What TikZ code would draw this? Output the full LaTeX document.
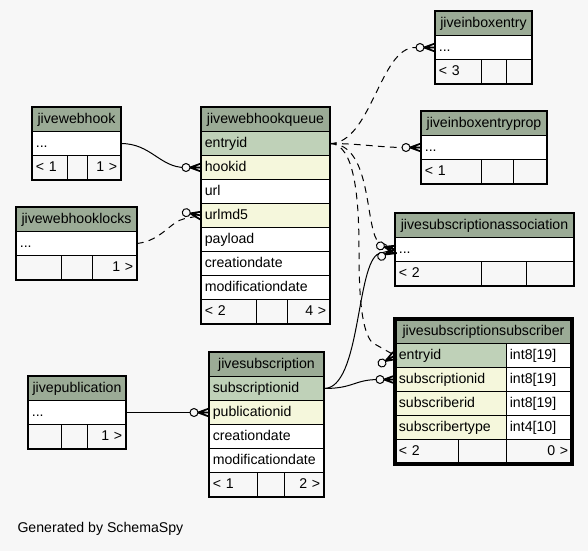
\documentclass[tikz,border=0pt]{standalone}
\usepackage{fontspec}
\setmainfont{Liberation Sans}
\usetikzlibrary{calc}
\definecolor{bgclr}{RGB}{247,247,247}
\definecolor{headclr}{RGB}{155,171,150}
\definecolor{pkclr}{RGB}{191,209,184}
\definecolor{fkclr}{RGB}{245,247,220}
\newcommand{\tabfont}{\fontsize{10.6}{12}\selectfont}

\tikzset{every picture/.style={line width=0.75pt}}
\tikzset{
  cell/.style={draw=black, fill=white, anchor=north west, inner xsep=2.5pt, inner ysep=0pt,
    minimum height=18pt, text width={#1*0.75pt-5pt}, align=left, font=\tabfont,
    text height=8pt, text depth=2.5pt},
  head/.style={cell=#1, fill=headclr, align=center},
  pkcell/.style={cell=#1, fill=pkclr},
  fkcell/.style={cell=#1, fill=fkclr},
  foot/.style={cell=#1, fill=bgclr},
  footr/.style={cell=#1, fill=bgclr, align=right},
  frame/.style={draw=black, line width=0.9pt},
  rel/.style={draw=black, line width=0.75pt},
  optrel/.style={rel, dash pattern=on 5pt off 4pt},
  crowodot/.pic={
    \draw[fill=bgclr, line width=0.75pt] (-15,0) circle (3pt);
    \draw[line width=1.3pt] (-11,0) -- (0,-4) (-11,0) -- (0,0) (-11,0) -- (0,4);
  }
}

\begin{document}
\begin{tikzpicture}[x=0.75pt,y=0.75pt,yscale=-1,xscale=1]
\fill[bgclr] (0,0) rectangle (588,551);
\useasboundingbox (0,0) rectangle (588,551);

% Table jivewebhook
\node[head=88] (hook-title) at (32,107) {jivewebhook};
\node[cell=88] (hook-dots) at (32,131) {...};
\node[foot=35] (hook-f1) at (32,155) {< 1};
\node[foot=20] (hook-f2) at (67,155) {};
\node[footr=33] (hook-f3) at (87,155) {1 >};
\draw[frame] (hook-title.north west) rectangle (hook-f3.south east);

% Table jivewebhooklocks
\node[head=120] (locks-title) at (16,207) {jivewebhooklocks};
\node[cell=120] (locks-dots) at (16,231) {...};
\node[foot=45] (locks-f1) at (16,255) {};
\node[foot=31] (locks-f2) at (61,255) {};
\node[footr=44] (locks-f3) at (92,255) {1 >};
\draw[frame] (locks-title.north west) rectangle (locks-f3.south east);

% Table jivewebhookqueue
\node[head=128] (queue-title) at (201,107) {jivewebhookqueue};
\node[pkcell=128] (queue-entryid) at (201,131) {entryid};
\node[fkcell=128] (queue-hookid) at (201,155) {hookid};
\node[cell=128] (queue-url) at (201,179) {url};
\node[fkcell=128] (queue-urlmd5) at (201,203) {urlmd5};
\node[cell=128] (queue-payload) at (201,227) {payload};
\node[cell=128] (queue-created) at (201,251) {creationdate};
\node[cell=128] (queue-modified) at (201,275) {modificationdate};
\node[foot=55] (queue-f1) at (201,299) {< 2};
\node[foot=31] (queue-f2) at (256,299) {};
\node[footr=42] (queue-f3) at (287,299) {4 >};
\draw[frame] (queue-title.north west) rectangle (queue-f3.south east);

% Table jiveinboxentry
\node[head=96] (inbox-title) at (435,11) {jiveinboxentry};
\node[cell=96] (inbox-dots) at (435,35) {...};
\node[foot=46] (inbox-f1) at (435,59) {< 3};
\node[foot=25] (inbox-f2) at (481,59) {};
\node[footr=25] (inbox-f3) at (506,59) {};
\draw[frame] (inbox-title.north west) rectangle (inbox-f3.south east);

% Table jiveinboxentryprop
\node[head=125] (prop-title) at (421,111) {jiveinboxentryprop};
\node[cell=125] (prop-dots) at (421,135) {...};
\node[foot=60] (prop-f1) at (421,159) {< 1};
\node[foot=32] (prop-f2) at (481,159) {};
\node[footr=33] (prop-f3) at (513,159) {};
\draw[frame] (prop-title.north west) rectangle (prop-f3.south east);

% Table jivesubscriptionassociation
\node[head=178] (assoc-title) at (395,213) {jivesubscriptionassociation};
\node[cell=178] (assoc-dots) at (395,237) {...};
\node[foot=86] (assoc-f1) at (395,261) {< 2};
\node[foot=45] (assoc-f2) at (481,261) {};
\node[footr=47] (assoc-f3) at (526,261) {};
\draw[frame] (assoc-title.north west) rectangle (assoc-f3.south east);

% Table jivesubscriptionsubscriber
\node[head=176] (subr-title) at (395,319) {jivesubscriptionsubscriber};
\node[pkcell=111] (subr-entryid) at (395,343) {entryid};
\node[cell=65] (subr-entryid-t) at (506,343) {int8[19]};
\node[fkcell=111] (subr-subid) at (395,367) {subscriptionid};
\node[cell=65] (subr-subid-t) at (506,367) {int8[19]};
\node[fkcell=111] (subr-subrid) at (395,391) {subscriberid};
\node[cell=65] (subr-subrid-t) at (506,391) {int8[19]};
\node[fkcell=111] (subr-type) at (395,415) {subscribertype};
\node[cell=65] (subr-type-t) at (506,415) {int4[10]};
\node[foot=63] (subr-f1) at (395,439) {< 2};
\node[foot=48] (subr-f2) at (458,439) {};
\node[footr=65] (subr-f3) at (506,439) {0 >};
\draw[frame, line width=2.3pt] (subr-title.north west) rectangle (subr-f3.south east);

% Table jivepublication
\node[head=97] (pub-title) at (28,376) {jivepublication};
\node[cell=97] (pub-dots) at (28,400) {...};
\node[foot=33] (pub-f1) at (28,424) {};
\node[foot=26] (pub-f2) at (61,424) {};
\node[footr=38] (pub-f3) at (87,424) {1 >};
\draw[frame] (pub-title.north west) rectangle (pub-f3.south east);

% Table jivesubscription
\node[head=114] (sub-title) at (209,352) {jivesubscription};
\node[pkcell=114] (sub-subid) at (209,376) {subscriptionid};
\node[fkcell=114] (sub-pubid) at (209,400) {publicationid};
\node[cell=114] (sub-created) at (209,424) {creationdate};
\node[cell=114] (sub-modified) at (209,448) {modificationdate};
\node[foot=48] (sub-f1) at (209,472) {< 1};
\node[foot=27] (sub-f2) at (257,472) {};
\node[footr=39] (sub-f3) at (284,472) {2 >};
\draw[frame] (sub-title.north west) rectangle (sub-f3.south east);

%Curve Lines
\coordinate (dropA) at (359,250);
\draw[rel] (hook-dots.east) .. controls +(30,0) and +(-25,0) .. ($(queue-hookid.west)+(-16,0)$) -- (queue-hookid.west);
\draw[optrel] (locks-dots.east) .. controls +(25,-3) and +(-15,3) .. ($(queue-urlmd5.west)+(-16,3)$) -- (queue-urlmd5.west);
\draw[rel] (pub-dots.east) -- (sub-pubid.west);
\draw[optrel] (queue-entryid.east) .. controls +(41,0) and +(-35,0) .. ($(inbox-dots.west)+(-20,0)$) -- (inbox-dots.west);
\draw[optrel] (queue-entryid.east) .. controls +(30,0) and +(-25,0) .. ($(prop-dots.west)+(-16,0)$) -- (prop-dots.west);
\draw[optrel] (queue-entryid.east) .. controls +(41,0) and +(-12,-20) .. ($(assoc-dots.west)+(-18,-9)$) -- (assoc-dots.west);
\draw[optrel] (queue-entryid.east) .. controls +(25,0) and +(0,-50) .. (dropA) .. controls +(0,50) and +(-10,-12) .. ($(subr-entryid.west)+(-23,-13)$) -- (subr-entryid.west);
\draw[rel] (sub-subid.east) .. controls +(37,0) and +(-23,9) .. ($(assoc-dots.west)+(-16,4)$) -- (assoc-dots.west);
\draw[rel] (sub-subid.east) .. controls +(30,0) and +(-25,0) .. ($(subr-subid.west)+(-16,0)$) -- (subr-subid.west);

% Crow ends
\pic at (queue-hookid.west) {crowodot};
\pic[rotate=-11] at (queue-urlmd5.west) {crowodot};
\pic at (sub-pubid.west) {crowodot};
\pic at (inbox-dots.west) {crowodot};
\pic at (prop-dots.west) {crowodot};
\pic[rotate=27] at (assoc-dots.west) {crowodot};
\pic[rotate=-14] at (assoc-dots.west) {crowodot};
\pic[rotate=30] at (subr-entryid.west) {crowodot};
\pic at (subr-subid.west) {crowodot};

% Text Node
\node[anchor=west, inner sep=0pt, font=\tabfont] (credit) at (17,529) {Generated by SchemaSpy};

\end{tikzpicture}
\end{document}
